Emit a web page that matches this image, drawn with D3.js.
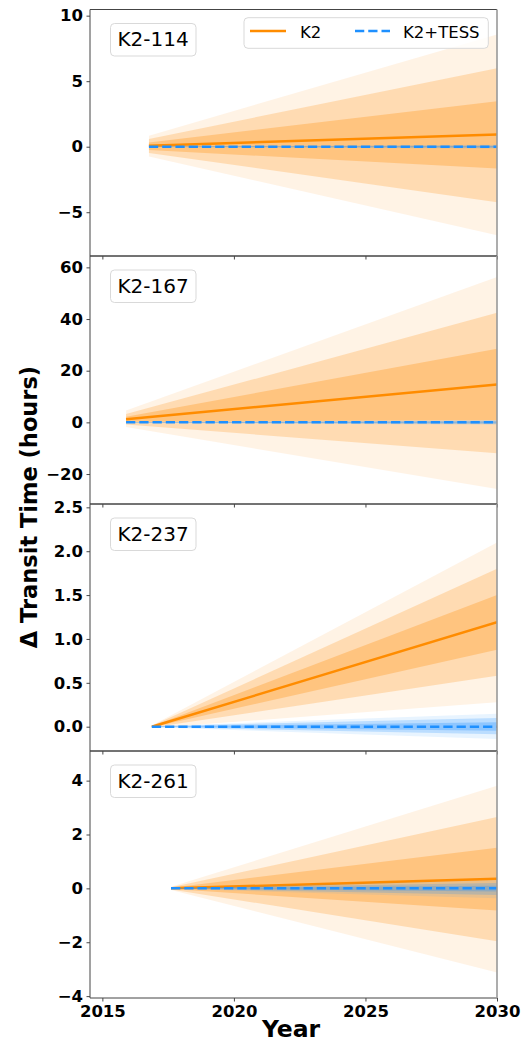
<!DOCTYPE html>
<html>
<head>
<meta charset="utf-8">
<script src="https://cdn.jsdelivr.net/npm/d3@7"></script>
<style>
  html, body { margin: 0; padding: 0; background: #fff; }
  svg { display: block; font-family: "DejaVu Sans", sans-serif; }
</style>
</head>
<body>
<svg id="chart" width="528" height="1043"></svg>
<script>
// ---------------- data ----------------
const planets = ["K2-114", "K2-167", "K2-237", "K2-261"];
const startYears = [2016.77, 2015.9, 2016.88, 2017.61];
const endYear = 2030;
const xTicks = [2015, 2020, 2025, 2030];

// K2 solution: [value at start, value at 2030]
const k2Mid = [[0.08, 0.94], [1.2, 14.7], [0.0, 1.19], [0.0, 0.36]];
const k2Lo1 = [[-0.25, -1.66], [0.2, 0.9], [-0.005, 0.877], [-0.02, -0.82]];
const k2Hi1 = [[0.33, 3.47], [2.2, 28.5], [0.005, 1.50], [0.02, 1.51]];
const k2Lo2 = [[-0.48, -4.23], [-0.8, -12.0], [-0.01, 0.58], [-0.04, -1.96]];
const k2Hi2 = [[0.59, 5.99], [3.2, 42.4], [0.01, 1.80], [0.04, 2.65]];
const k2Lo3 = [[-0.74, -6.76], [-1.8, -25.8], [-0.015, 0.278], [-0.06, -3.12]];
const k2Hi3 = [[0.84, 8.57], [4.6, 56.3], [0.015, 2.10], [0.06, 3.81]];

// K2+TESS solution
const ktMid = [[0, 0], [0, 0], [0, 0], [0, 0]];
const ktLo1 = [[-0.01, -0.05], [-0.05, -0.3], [-0.002, -0.045], [-0.005, -0.12]];
const ktHi1 = [[0.01, 0.05], [0.05, 0.3], [0.002, 0.05], [0.005, 0.1]];
const ktLo2 = [[-0.02, -0.1], [-0.1, -0.6], [-0.004, -0.087], [-0.01, -0.25]];
const ktHi2 = [[0.02, 0.1], [0.1, 0.6], [0.004, 0.1], [0.01, 0.2]];
const ktLo3 = [[-0.03, -0.15], [-0.15, -0.9], [-0.006, -0.14], [-0.015, -0.37]];
const ktHi3 = [[0.03, 0.15], [0.15, 0.9], [0.006, 0.148], [0.015, 0.3]];

const yDomains = [[-8.34, 10.47], [-31.6, 64.4], [-0.277, 2.538], [-4.07, 5.1]];
const yTicks = [[-5, 0, 5, 10], [-20, 0, 20, 40, 60], [0, 0.5, 1, 1.5, 2, 2.5], [-4, -2, 0, 2, 4]];
const yFormats = ["d", "d", ".1f", "d"];

// ---------------- layout ----------------
const left = 90, right = 497;
const tops = [9.5, 256, 504, 751];
const bottoms = [256, 504, 751, 998];
const ORANGE = "#ff8c00", BLUE = "#1e90ff";

const svg = d3.select("#chart");
const x = d3.scaleLinear().domain([2014.53, 2030]).range([left, right]);

planets.forEach((name, i) => {
  const y = d3.scaleLinear().domain(yDomains[i]).range([bottoms[i], tops[i]]);
  const g = svg.append("g");
  const clipId = "clip" + i;
  svg.append("clipPath").attr("id", clipId)
    .append("rect").attr("x", left).attr("y", tops[i])
    .attr("width", right - left).attr("height", bottoms[i] - tops[i]);
  const plot = g.append("g").attr("clip-path", `url(#${clipId})`);

  const yrs = [startYears[i], endYear];
  const band = (lo, hi) => yrs.map((t, k) => ({ t, lo: lo[i][k], hi: hi[i][k] }));
  const area = d3.area().x(d => x(d.t)).y0(d => y(d.lo)).y1(d => y(d.hi));
  const line = d3.line().x(d => x(d.t)).y(d => y(d.v));

  // K2 bands
  [[k2Lo3, k2Hi3, 0.1], [k2Lo2, k2Hi2, 0.222], [k2Lo1, k2Hi1, 0.286]].forEach(([lo, hi, op]) => {
    plot.append("path").datum(band(lo, hi)).attr("d", area)
      .attr("fill", ORANGE).attr("fill-opacity", op).attr("stroke", "none");
  });
  // K2 line
  plot.append("path").datum(yrs.map((t, k) => ({ t, v: k2Mid[i][k] }))).attr("d", line)
    .attr("fill", "none").attr("stroke", ORANGE).attr("stroke-width", 2.5);
  // K2+TESS bands
  [[ktLo3, ktHi3, 0.1], [ktLo2, ktHi2, 0.222], [ktLo1, ktHi1, 0.286]].forEach(([lo, hi, op]) => {
    plot.append("path").datum(band(lo, hi)).attr("d", area)
      .attr("fill", BLUE).attr("fill-opacity", op).attr("stroke", "none");
  });
  // K2+TESS dashed line
  plot.append("path").datum(yrs.map((t, k) => ({ t, v: ktMid[i][k] }))).attr("d", line)
    .attr("fill", "none").attr("stroke", BLUE).attr("stroke-width", 2.5)
    .attr("stroke-dasharray", "9.25 4");

  // y axis
  const yAxis = d3.axisLeft(y).tickValues(yTicks[i]).tickFormat(d3.format(yFormats[i]))
    .tickSizeInner(3.5).tickSizeOuter(0).tickPadding(3.5);
  const ya = g.append("g").attr("transform", `translate(${left},0)`).call(yAxis);
  ya.select(".domain").remove();
  ya.selectAll(".tick line").attr("stroke", "#333").attr("stroke-width", 0.9);
  ya.selectAll(".tick text").attr("font-size", 16.5).attr("font-weight", "bold")
    .attr("fill", "#000").attr("font-family", "DejaVu Sans");

  // x axis ticks (labels only bottom)
  const xAxis = d3.axisBottom(x).tickValues(xTicks).tickSizeInner(3.5).tickSizeOuter(0).tickPadding(3.5)
    .tickFormat(i === planets.length - 1 ? d3.format("d") : () => "");
  const xa = g.append("g").attr("transform", `translate(0,${bottoms[i]})`).call(xAxis);
  xa.select(".domain").remove();
  xa.selectAll(".tick line").attr("stroke", "#333").attr("stroke-width", 0.9);
  xa.selectAll(".tick text").attr("font-size", 16.5).attr("font-weight", "bold")
    .attr("fill", "#000").attr("font-family", "DejaVu Sans");

  // frame
  g.append("line").attr("x1", left).attr("x2", left).attr("y1", tops[i]).attr("y2", bottoms[i])
    .attr("stroke", "#444").attr("stroke-width", 1);
  g.append("line").attr("x1", left).attr("x2", right).attr("y1", tops[i]).attr("y2", tops[i])
    .attr("stroke", "#444").attr("stroke-width", 1);
  g.append("line").attr("x1", left).attr("x2", right).attr("y1", bottoms[i]).attr("y2", bottoms[i])
    .attr("stroke", "#444").attr("stroke-width", 1);
  g.append("line").attr("x1", right).attr("x2", right).attr("y1", tops[i]).attr("y2", bottoms[i])
    .attr("stroke", "#999").attr("stroke-width", 1.6);

  // planet label box
  const by = tops[i] + 14;
  g.append("rect").attr("x", 110.5).attr("y", by).attr("width", 85.5).attr("height", 32.5)
    .attr("rx", 4).attr("fill", "#fff").attr("fill-opacity", 0.8)
    .attr("stroke", "#d9d9d9").attr("stroke-width", 1);
  g.append("text").attr("x", 153).attr("y", by + 22.5).attr("text-anchor", "middle")
    .attr("font-size", 20).attr("fill", "#000").text(name);
});

// legend
const lg = svg.append("g");
lg.append("rect").attr("x", 244).attr("y", 17.7).attr("width", 244.3).attr("height", 30.6)
  .attr("rx", 4).attr("fill", "#fff").attr("fill-opacity", 0.8)
  .attr("stroke", "#d9d9d9").attr("stroke-width", 1);
lg.append("line").attr("x1", 250).attr("x2", 286).attr("y1", 31).attr("y2", 31)
  .attr("stroke", ORANGE).attr("stroke-width", 2.5);
lg.append("text").attr("x", 300).attr("y", 37.5).attr("font-size", 16.5).attr("fill", "#000").text("K2");
lg.append("line").attr("x1", 355).attr("x2", 390).attr("y1", 31).attr("y2", 31)
  .attr("stroke", BLUE).attr("stroke-width", 2.5).attr("stroke-dasharray", "9.25 4");
lg.append("text").attr("x", 403).attr("y", 37.5).attr("font-size", 16.5).attr("fill", "#000").text("K2+TESS");

// axis titles
svg.append("text").attr("x", 291).attr("y", 1037).attr("text-anchor", "middle")
  .attr("font-size", 23.5).attr("font-weight", "bold").attr("fill", "#000").text("Year");
svg.append("text").attr("transform", "translate(37,507) rotate(-90)").attr("text-anchor", "middle")
  .attr("font-size", 22.5).attr("font-weight", "bold").attr("fill", "#000").text("Δ Transit Time (hours)");
</script>
</body>
</html>
